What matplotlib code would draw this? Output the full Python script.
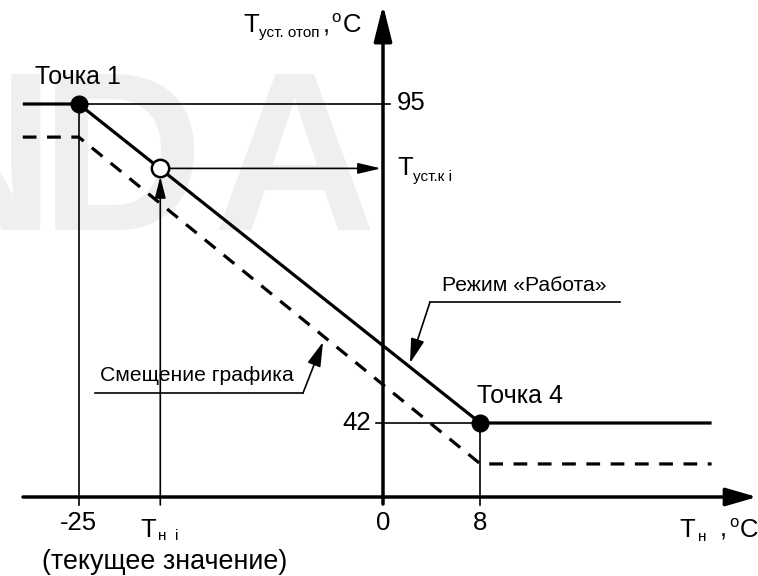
import matplotlib
matplotlib.use('Agg')
import matplotlib.pyplot as plt

plt.rcParams['font.family'] = ['Liberation Sans', 'DejaVu Sans']

# ---------------- data ----------------
point_names = ['Точка 1', 'Точка 4']
t_out = [-25, 8]                 # outdoor temperature of the break points
t_set = [95, 42]                 # heating set-point at the break points
t_set_shifted = [89.5, 35.2]     # shifted (dashed) curve
t_out_cur = -18.3                # current outdoor temperature  (T н i)
t_set_cur = 84.3                 # corresponding set-point      (T уст.к i)
x_tick_values = [-25, 0, 8]
x_tick_labels = ['-25', '0', '8']
y_tick_labels = ['95', '42']
curve_x_left, curve_x_right = -29.6, 27.0

# ---------------- layout ----------------
W, H = 758, 576
fig = plt.figure(figsize=(W / 100, H / 100), dpi=100)
ax = fig.add_axes([0, 0, 1, 1])
X0, SX, PY95, SY = 383, 12.17, 104, 6.019


def px2x(px):
    return (px - X0) / SX


def py2y(py):
    return 95 - (py - PY95) / SY


ax.set_xlim(px2x(0), px2x(W))
ax.set_ylim(py2y(H), py2y(0))
ax.axis('off')

FS = 18.5
FS_SUB = 11
FS_SUP = 12
LW_MAIN = 2.3
LW_AX = 2.5
LW_THIN = 1.2
y_axis_level = py2y(497)

# watermark
wm = dict(fontsize=163, fontweight='bold', color='#efefef', zorder=0,
          va='baseline', transform=ax.transAxes)
ax.text(55 / W, 1 - 230 / H, 'N', ha='right', **wm)
ax.text(40 / W, 1 - 230 / H, 'D', ha='left', **wm)
ax.text(376 / W, 1 - 230 / H, 'A', ha='right', **wm)


def arrow(x0, y0, x1, y1, lw, hl, hw):
    ax.annotate('', xy=(x1, y1), xytext=(x0, y0),
                arrowprops=dict(arrowstyle=f'-|>,head_length={hl},head_width={hw}',
                                lw=lw, color='black', shrinkA=0, shrinkB=0,
                                mutation_scale=1), zorder=3)


def compose(x_px, base_px, parts, fs_first=FS):
    """parts: list of (text, fontsize, dy_px downward from baseline, gap_px)."""
    prev = ax.text(px2x(x_px), py2y(base_px), parts[0], fontsize=fs_first,
                   ha='left', va='baseline')
    for s, fs, dy, gap in parts[1:]:
        prev = ax.annotate(s, xy=(1, py2y(base_px)), xycoords=(prev, 'data'),
                           xytext=(gap * 0.72, -dy * 0.72), textcoords='offset points',
                           fontsize=fs, ha='left', va='baseline')
    return prev


# axes with arrows
arrow(px2x(23), y_axis_level, px2x(757), y_axis_level, LW_AX, 19, 5.5)
arrow(0, py2y(504), 0, py2y(5), LW_AX, 22, 5.5)

# main curve
ax.plot([curve_x_left, t_out[0], t_out[1], curve_x_right],
        [t_set[0], t_set[0], t_set[1], t_set[1]],
        color='black', lw=LW_MAIN, solid_capstyle='butt', zorder=4)
# shifted curve
ln, = ax.plot([curve_x_left, t_out[0], t_out[1], curve_x_right],
              [t_set_shifted[0], t_set_shifted[0], t_set_shifted[1], t_set_shifted[1]],
              color='black', lw=LW_MAIN, zorder=4)
ln.set_dashes([4.3, 3.3])

# thin guide lines
ax.plot([t_out[0], px2x(390)], [t_set[0], t_set[0]], color='black', lw=LW_THIN, zorder=2)
ax.plot([px2x(376), t_out[1]], [t_set[1], t_set[1]], color='black', lw=LW_THIN, zorder=2)
ax.plot([t_out[0], t_out[0]], [t_set[0], py2y(505)], color='black', lw=LW_THIN, zorder=2)
ax.plot([t_out[1], t_out[1]], [t_set[1], py2y(505)], color='black', lw=LW_THIN, zorder=2)
arrow(t_out_cur, py2y(505), t_out_cur, t_set_cur - 1.35, LW_THIN, 13, 3.3)
arrow(t_out_cur + 0.75, t_set_cur, px2x(381), t_set_cur, LW_THIN, 14, 3.3)

# points
ax.plot(t_out, t_set, 'o', color='black', ms=12, zorder=6)
ax.plot([t_out_cur], [t_set_cur], 'o', mfc='white', mec='black', mew=1.8, ms=12.5, zorder=6)

# point labels
ax.text(px2x(35), py2y(84), point_names[0], fontsize=18, ha='left', va='baseline')
ax.text(px2x(477), py2y(403), point_names[1], fontsize=18, ha='left', va='baseline')

# y tick labels
ax.text(px2x(397), py2y(110), y_tick_labels[0], fontsize=FS, ha='left', va='baseline')
ax.text(px2x(371), py2y(430), y_tick_labels[1], fontsize=FS, ha='right', va='baseline')
compose(397, 175, ['T', ('уст.к i', FS_SUB, 6, 0)])

# x tick labels
for v, lab in zip(x_tick_values, x_tick_labels):
    ax.text(v, py2y(530), lab, fontsize=FS, ha='center', va='baseline')
compose(140, 537, ['T', ('н  i', FS_SUB, 3, 2)])
ax.text(px2x(165), py2y(569), '(текущее значение)', fontsize=19.4, ha='center', va='baseline')

# axis titles
compose(679, 537, ['T', ('н', FS_SUB, 4, 3), (',', FS, 0, 13),
                   ('o', FS_SUP, -10, 3), ('C', FS, 0, 1)])
compose(243, 32, ['T', ('уст. отоп', FS_SUB, 5, 0), (',', FS, 0, 3),
                  ('o', FS_SUP, -10, 2), ('C', FS, 0, 2)])

# leader annotations
ax.text(px2x(442), py2y(291), 'Режим «Работа»', fontsize=15.2, ha='left', va='baseline')
ax.plot([px2x(430), px2x(620)], [py2y(302), py2y(302)], color='black', lw=LW_THIN)
arrow(px2x(430), py2y(302), px2x(410), py2y(363), LW_THIN, 15, 4.2)

ax.text(px2x(100), py2y(381), 'Смещение графика', fontsize=15.2, ha='left', va='baseline')
ax.plot([px2x(95), px2x(303)], [py2y(393), py2y(393)], color='black', lw=LW_THIN)
arrow(px2x(303), py2y(393), px2x(323), py2y(342), LW_THIN, 15, 4.2)

fig.savefig('out.png', dpi=100)
